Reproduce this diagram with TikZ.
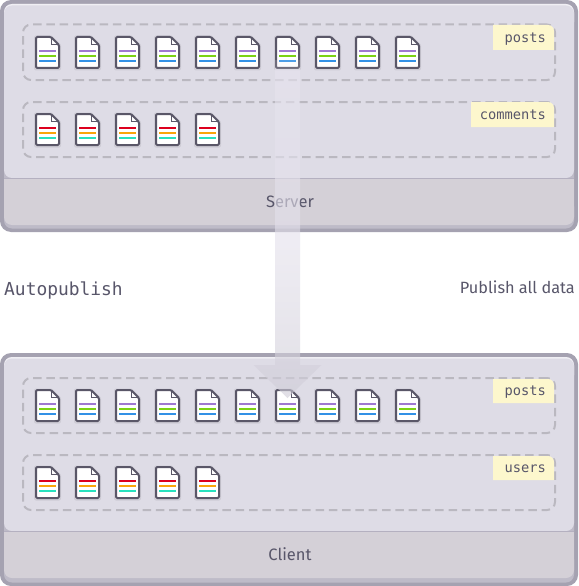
\documentclass[tikz,border=0pt]{standalone}
\usepackage{fontspec}
\setmainfont{Fira Sans}
\setmonofont{DejaVu Sans Mono}
\usetikzlibrary{calc}
\definecolor{panelbg}{RGB}{222,220,230}
\definecolor{panelhi}{RGB}{240,239,244}
\definecolor{footbg}{RGB}{212,208,215}
\definecolor{bordA}{RGB}{165,162,177}
\definecolor{bordB}{RGB}{190,187,200}
\definecolor{divider}{RGB}{180,176,192}
\definecolor{dashc}{RGB}{186,184,192}
\definecolor{tagbg}{RGB}{253,247,205}
\definecolor{inkc}{RGB}{88,86,106}
\definecolor{iconc}{RGB}{90,87,104}
\definecolor{lpurple}{RGB}{160,120,210}
\definecolor{lgreen}{RGB}{125,210,20}
\definecolor{lblue}{RGB}{50,145,230}
\definecolor{lred}{RGB}{220,0,30}
\definecolor{lorange}{RGB}{250,165,10}
\definecolor{lteal}{RGB}{40,225,190}
\definecolor{shaftc}{RGB}{235,232,243}
\pgfdeclareverticalshading{arrowshade}{100bp}{
 rgb(0bp)=(0.66,0.65,0.70);
 rgb(10bp)=(0.68,0.67,0.72);
 rgb(10.5bp)=(0.76,0.75,0.80);
 rgb(17.6bp)=(0.784,0.773,0.816);
 rgb(48bp)=(0.89,0.878,0.92);
 rgb(100bp)=(0.922,0.91,0.953)}
\tikzset{
 x=1pt,y=-1pt,
 groupbox/.style={draw=dashc,line width=2pt,rounded corners=8pt,dash pattern=on 8.5pt off 4.8pt,
   minimum width=532pt,inner sep=0pt,outer sep=0pt,anchor=north west},
 tagtext/.style={font=\ttfamily\fontsize{13.7}{14}\selectfont,text=inkc,inner sep=0pt,anchor=base east},
 sidelabel/.style={text=inkc,inner sep=0pt},
 footlabel/.style={font=\fontsize{16.5}{18}\selectfont,text=inkc,inner sep=0pt,anchor=base},
 pics/docicon/.style n args={3}{code={
  \draw[black,opacity=0.07,line width=4pt,line join=round] (15,0.5) -- (0,0.5) -- (0,31.5) -- (23,31.5) -- (23,8.5) -- cycle;
  \fill[white] (0,0) -- (15,0) -- (23,8) -- (23,31) -- (0,31) -- cycle;
  \draw[iconc,line width=2pt,line join=round,rounded corners=1.2pt] (15,0) -- (0,0) -- (0,31) -- (23,31) -- (23,8) -- cycle;
  \draw[iconc,line width=1pt] (15,0) -- (15,7.5) -- (23,7.5);
  \fill[#1] (3,13) rectangle (20,15);
  \fill[#2] (3,18) rectangle (20,20);
  \fill[#3] (3,23) rectangle (20,25);
 }}
}
\newcommand{\panelbox}[2]{%
 \fill[bordA] (0,#1) [rounded corners=11pt] rectangle (578,#2);
 \fill[bordB,rounded corners=8pt] (4,#1+4) rectangle (574,#2-3.5);
 \fill[panelhi,rounded corners=8pt] (4,#1+4) rectangle (574,#1+30);
 \fill[panelbg,rounded corners=8pt] (4,#1+5.5) rectangle (574,#1+178);
}
\newcommand{\footbox}[2]{%
 \fill[footbg,rounded corners=8pt] (4,#1+20) rectangle (574,#2);
 \fill[footbg] (4,#1) rectangle (574,#1+30);
 \fill[divider] (4,#1-0.6) rectangle (574,#1+0.6);
}
\newcommand{\tagbox}[3]{% left, top, bottom
 \fill[tagbg] (#1,#2) -- (548,#2) arc[start angle=-90,end angle=0,x radius=6pt,y radius=-6pt] -- (554,#3) -- (#1,#3) -- cycle;
}
\begin{document}
\begin{tikzpicture}
\useasboundingbox (0,0) rectangle (578,586);
\fill[white] (0,0) rectangle (578,586);
% server panel
\panelbox{0}{232}
\footbox{178.5}{225}
% client panel
\panelbox{353}{586}
\footbox{531.5}{578}
% groups
\node[groupbox,minimum height=55.5pt] (srvposts) at (23,24.5) {};
\node[groupbox,minimum height=55pt] (srvcomments) at (23,102) {};
\node[groupbox,minimum height=55pt] (cliposts) at (23,378) {};
\node[groupbox,minimum height=55pt] (cliusers) at (23,455) {};
% tags
\tagbox{493}{25}{50}
\tagbox{471}{102}{127}
\tagbox{493}{379}{403}
\tagbox{493}{456}{480}
\node[tagtext] (tagA) at (546,42.7) {posts};
\node[tagtext] (tagB) at (546,119) {comments};
\node[tagtext] (tagC) at (546,395.5) {posts};
\node[tagtext] (tagD) at (546,472.5) {users};
% documents
\foreach \i in {0,...,9} {
 \pic at (36+40*\i,37) {docicon={lpurple}{lgreen}{lblue}};
 \pic at (36+40*\i,390) {docicon={lpurple}{lgreen}{lblue}};
}
\foreach \i in {0,...,4} {
 \pic at (36+40*\i,114) {docicon={lred}{lorange}{lteal}};
 \pic at (36+40*\i,467) {docicon={lred}{lorange}{lteal}};
}
% labels
\node[footlabel] (server) at (290,207.5) {Server};
\node[footlabel] (client) at (290,560.5) {Client};
\node[sidelabel,font=\ttfamily\fontsize{17.9}{20}\selectfont,anchor=base west] (autopub) at (4,295) {Autopublish};
\node[sidelabel,font=\fontsize{16.3}{18}\selectfont,anchor=base east] (puball) at (575,293) {Publish all data};
% arrow
\coordinate (arrowtop) at (287.5,69);
\coordinate (arrowtip) at (287.5,398);
\fill[shaftc,opacity=0.15] ($(arrowtop)+(-12.5,-9)$) rectangle ($(arrowtop)+(12.5,0)$);
\shade[shading=arrowshade,opacity=0.6]
 ($(arrowtop)+(-12.5,0)$) -- ($(arrowtop)+(12.5,0)$) -- ($(arrowtip)+(12.5,-33)$) -- ($(arrowtip)+(34,-33)$)
 -- (arrowtip) -- ($(arrowtip)+(-34,-33)$) -- ($(arrowtip)+(-12.5,-33)$) -- cycle;
\end{tikzpicture}
\end{document}
